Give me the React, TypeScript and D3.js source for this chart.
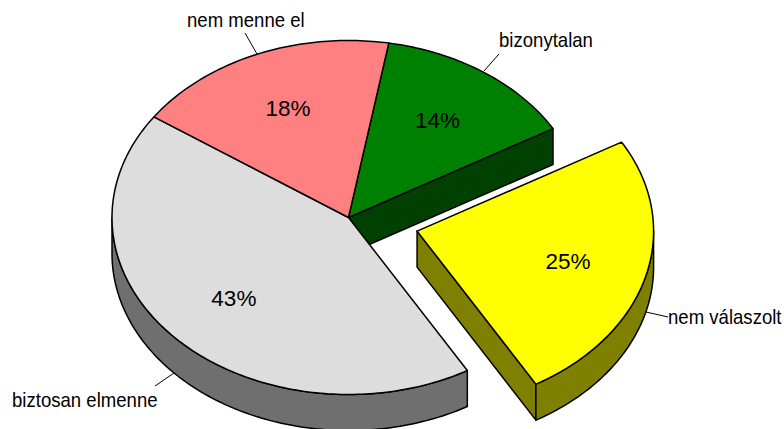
import React from "react";
import * as d3 from "d3";

const categories = ["bizonytalan", "nem válaszolt", "biztosan elmenne", "nem menne el"];
const seriesValues = [13.9, 25, 43, 18.1];
const percentLabels = ["14%", "25%", "43%", "18%"];
const topColors = ["#008000", "#ffff00", "#dddddd", "#ff8080"];
const sideColors = ["#004000", "#808000", "#6f6f6f", "#804040"];
const explodeFactors = [0, 0.3, 0, 0];
const startDegrees = 9.8;

const labelAnchors: [number, number][] = [
  [499, 47],
  [668, 324],
  [12, 407],
  [187, 27],
];
const leaders: [number, number, number, number][] = [
  [499, 54, 484, 71],
  [668, 317, 646, 312],
  [155, 386, 174, 373],
  [245, 33, 257, 54],
];

const W = 784, H = 429;
const cx = 348.5, cy = 217.5, rx = 236.5, ry = 177, depth = 36;
const labelCondense = 0.885;

const pieGen = d3
  .pie<number>()
  .sort(null)
  .startAngle((startDegrees * Math.PI) / 180)
  .endAngle(((startDegrees + 360) * Math.PI) / 180);
const arcs = pieGen(seriesValues);

const xs = d3.scaleLinear().domain([-1, 1]).range([-rx, rx]);
const ys = d3.scaleLinear().domain([-1, 1]).range([-ry, ry]);
const line = d3.line<[number, number]>();

function rim(a0: number, a1: number, ox: number, oy: number): [number, number][] {
  const n = Math.max(2, Math.ceil(((a1 - a0) / Math.PI) * 180));
  return d3.range(n + 1).map((i) => {
    const t = a0 + ((a1 - a0) * i) / n;
    return [ox + xs(Math.sin(t)), oy + ys(-Math.cos(t))] as [number, number];
  });
}

const slices = arcs.map((a, i) => {
  const mid = (a.startAngle + a.endAngle) / 2;
  const e = explodeFactors[i];
  const ox = cx + e * rx * Math.sin(mid);
  const oy = cy - e * ry * Math.cos(mid);
  return { a, i, mid, ox, oy };
});

function visibleWall(a0: number, a1: number): [number, number] | null {
  const s = Math.max(a0, Math.PI / 2);
  const e = Math.min(a1, (3 * Math.PI) / 2);
  return e > s ? [s, e] : null;
}

export default function App() {
  const stroke = "#000";
  const sw = 1.5;
  const order = [0, 3, 2, 1];
  return (
    <svg
      width={W}
      height={H}
      viewBox={`0 0 ${W} ${H}`}
      style={{ position: "absolute", left: 0, top: 0, background: "#fff" }}
      fontFamily="'Liberation Sans', Arial, sans-serif"
    >
      {leaders.map((l, i) => (
        <line key={i} x1={l[0]} y1={l[1]} x2={l[2]} y2={l[3]} stroke="#000" strokeWidth={1} />
      ))}
      {order.map((k) => {
        const { a, ox, oy } = slices[k];
        const parts: React.ReactNode[] = [];
        if (k === 0 || k === 1) {
          const p = rim(a.endAngle, a.endAngle, ox, oy)[0];
          const pts: [number, number][] = [[ox, oy], p, [p[0], p[1] + depth], [ox, oy + depth]];
          parts.push(
            <path key="f" d={line(pts) + "Z"} fill={sideColors[k]} stroke={stroke} strokeWidth={sw} strokeLinejoin="round" />
          );
        }
        const vis = visibleWall(a.startAngle, a.endAngle);
        if (vis) {
          const top = rim(vis[0], vis[1], ox, oy);
          const bottom = top.map(([x, y]) => [x, y + depth] as [number, number]).reverse();
          parts.push(
            <path key="w" d={line(top.concat(bottom)) + "Z"} fill={sideColors[k]} stroke={stroke} strokeWidth={sw} strokeLinejoin="round" />
          );
        }
        return <g key={k}>{parts}</g>;
      })}
      {[0, 2, 3, 1].map((k) => {
        const { a, ox, oy } = slices[k];
        const pts: [number, number][] = [[ox, oy], ...rim(a.startAngle, a.endAngle, ox, oy)];
        return <path key={k} d={line(pts) + "Z"} fill={topColors[k]} stroke={stroke} strokeWidth={sw} strokeLinejoin="round" />;
      })}
      {slices.map(({ i, mid, ox, oy }) => (
        <text
          key={i}
          x={ox + 0.66 * xs(Math.sin(mid))}
          y={oy + 0.67 * ys(-Math.cos(mid)) - 0.5}
          dy="0.36em"
          textAnchor="middle"
          fontSize={22.5}
          fill="#000"
        >
          {percentLabels[i]}
        </text>
      ))}
      {categories.map((c, i) => (
        <text
          key={c}
          transform={`translate(${labelAnchors[i][0]},${labelAnchors[i][1]}) scale(${labelCondense},1)`}
          fontSize={21}
          fill="#000"
        >
          {c}
        </text>
      ))}
    </svg>
  );
}
